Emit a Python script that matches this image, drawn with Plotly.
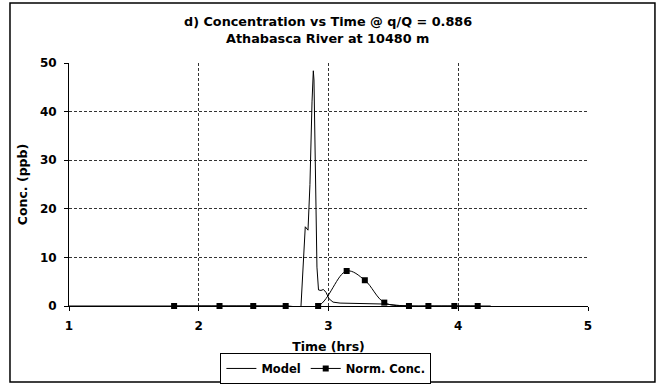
import plotly.graph_objects as go

# Model output: time (hrs) and concentration (ppb)
model_time = [1.0, 2.68, 2.726, 2.78, 2.788, 2.811, 2.821, 2.842, 2.857, 2.873,
              2.883, 2.888, 2.900, 2.911, 2.923, 2.942, 2.961, 2.981, 3.004,
              3.035, 3.089, 3.243, 3.435, 3.55, 3.63, 4.25]
model_conc = [0.0, 0.0, -0.3, -0.3, 0.0, 10.0, 16.3, 15.6, 25.0, 42.0,
              48.4, 46.5, 30.0, 8.0, 3.3, 3.2, 3.4, 2.8, 1.5,
              0.8, 0.6, 0.5, 0.4, 0.1, 0.0, 0.0]

# Normalized measured concentrations
norm_time = [1.81, 2.16, 2.42, 2.67, 2.92, 3.14, 3.28, 3.43, 3.62, 3.77, 3.97, 4.15]
norm_conc = [0.0, 0.0, 0.0, 0.0, 0.0, 7.2, 5.3, 0.7, 0.0, 0.0, 0.0, 0.0]

x_ticks = [1, 2, 3, 4, 5]
y_ticks = [0, 10, 20, 30, 40, 50]

FONT = "DejaVu Sans, Arial, sans-serif"


def bold(size):
    return dict(family=FONT, size=size, color="black", weight="bold")


fig = go.Figure()
fig.add_trace(go.Scatter(
    x=model_time, y=model_conc, mode="lines", name="Model",
    line=dict(color="black", width=1),
))
fig.add_trace(go.Scatter(
    x=norm_time, y=norm_conc, mode="lines+markers", name="Norm. Conc.",
    line=dict(color="black", width=1, shape="spline", smoothing=1.0),
    marker=dict(symbol="square", size=6, color="black"),
    cliponaxis=False,
))

axis_common = dict(
    showline=True, linecolor="black", linewidth=1,
    ticks="outside", ticklen=4, tickcolor="black",
    showgrid=True, gridcolor="#333", gridwidth=1, griddash="3px,2px",
    zeroline=False, automargin=False,
    tickfont=bold(12),
)

fig.update_layout(
    width=664, height=387,
    margin=dict(l=69, r=76, t=63, b=81, autoexpand=False),
    paper_bgcolor="white", plot_bgcolor="white",
    font=dict(family=FONT, color="black"),
    xaxis=dict(range=[1, 5], tickvals=x_ticks, ticklabelstandoff=5,
               title=dict(text="Time (hrs)", standoff=9, font=bold(12.5)),
               **axis_common),
    yaxis=dict(range=[0, 50], tickvals=y_ticks, ticklabelstandoff=5,
               title=dict(text="Conc. (ppb)", standoff=9, font=bold(12.5)),
               **axis_common),
    showlegend=True,
    legend=dict(
        orientation="h", x=0.495, xanchor="center", y=-0.257, yanchor="middle",
        bordercolor="black", borderwidth=1, bgcolor="white",
        font=bold(11.5), itemwidth=30, tracegroupgap=0,
    ),
    annotations=[
        dict(text="d) Concentration vs Time @ q/Q = 0.886", xref="paper", yref="paper",
             x=0.499, y=1.169, showarrow=False, xanchor="center", yanchor="middle",
             font=bold(12.8)),
        dict(text="Athabasca River at 10480 m", xref="paper", yref="paper",
             x=0.499, y=1.099, showarrow=False, xanchor="center", yanchor="middle",
             font=bold(12.8)),
    ],
    shapes=[
        dict(type="rect", xref="paper", yref="paper",
             x0=-0.1137, x1=1.129, y0=-0.3128, y1=1.247,
             line=dict(color="black", width=1.5), fillcolor="rgba(0,0,0,0)",
             layer="above"),
    ],
)

fig.write_html("out.html")
